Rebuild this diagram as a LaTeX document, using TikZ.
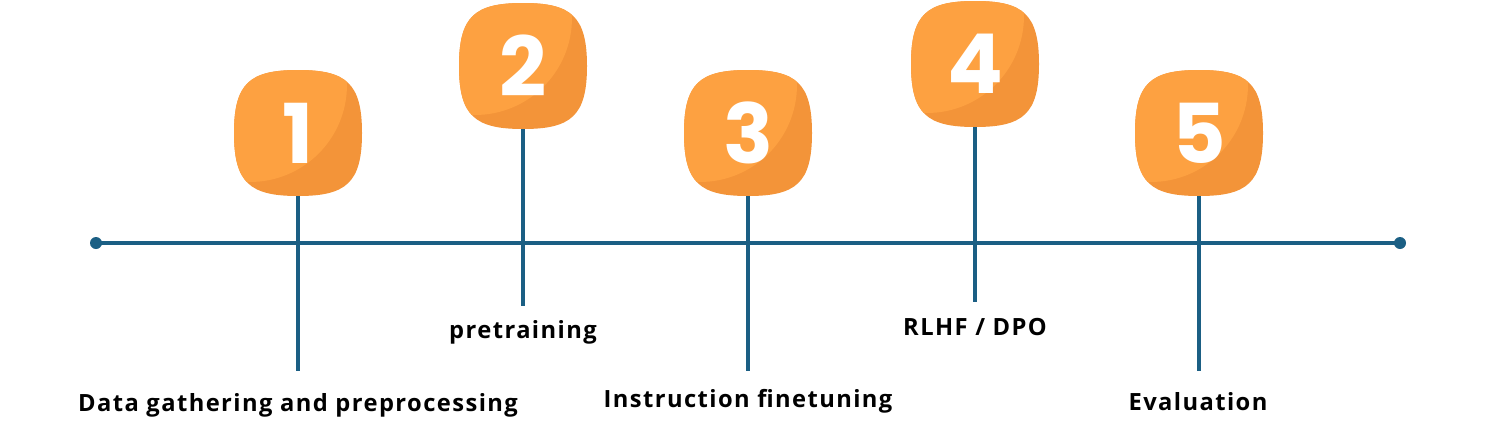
\documentclass[tikz,border=0pt]{standalone}
\usepackage{fontspec}
\setmainfont{Open Sans}
\newfontfamily\numfont{Poppins}
\newfontfamily\lblfont{Open Sans}[LetterSpace=6]
\usepackage{xcolor}
\definecolor{orlight}{HTML}{FDA141}
\definecolor{ordark}{HTML}{F39439}
\definecolor{lineblue}{HTML}{1B5F84}

% outline of one number badge, in pixel units round its centre
\newcommand\badgeshape{(0,-63) .. controls (48,-63) and (64,-50) .. (64,0)
  .. controls (64,50) and (48,63) .. (0,63)
  .. controls (-48,63) and (-64,50) .. (-64,0)
  .. controls (-64,-50) and (-48,-63) .. (0,-63) -- cycle}

% #1 name, #2 centre, #3 number
\newcommand\badge[3]{%
  \begin{scope}[shift={#2}]
    \fill[ordark] \badgeshape;
    \begin{scope}
      \clip \badgeshape;
      \fill[orlight] (-48,-48) circle[radius=1.94cm];
    \end{scope}
  \end{scope}
  \node[badge] (#1) at #2 {#3};}

\tikzset{
  badge/.style={minimum width=2.56cm, minimum height=2.52cm, inner sep=0pt,
    text=white, font=\numfont\bfseries\fontsize{47}{47}\selectfont},
  stem/.style={lineblue, line width=2pt},
  lbl/.style={font=\lblfont\bfseries\fontsize{13.5}{15}\selectfont, anchor=base, inner sep=0pt}
}

\begin{document}
\begin{tikzpicture}[x=0.02cm, y=-0.02cm]
        \useasboundingbox (0,0) rectangle (1497,437);
        % timeline
        \coordinate (t0) at (96,243);
        \coordinate (t1) at (1400,243);
        \draw[stem] (t0) -- (t1);
        \fill[lineblue] (t0) circle (0.12cm);
        \fill[lineblue] (t1) circle (0.12cm);
        % badges
        \badge{b1}{(298,133)}{1}
        \badge{b2}{(523,66)}{2}
        \badge{b3}{(748,133)}{3}
        \badge{b4}{(975,64)}{4}
        \badge{b5}{(1199,133)}{5}
        % stem ends
        \coordinate (e1) at (298,371);
        \coordinate (e2) at (523,306);
        \coordinate (e3) at (748,371);
        \coordinate (e4) at (975,302);
        \coordinate (e5) at (1199,371);
        \draw[stem] (b1) -- (e1);
        \draw[stem] (b2) -- (e2);
        \draw[stem] (b3) -- (e3);
        \draw[stem] (b4) -- (e4);
        \draw[stem] (b5) -- (e5);
        % labels
        \node[lbl] (l1) at (298,411) {Data gathering and preprocessing};
        \node[lbl] (l2) at (523,338) {pretraining};
        \node[lbl] (l3) at (748,407) {Instruction finetuning};
        \node[lbl] (l4) at (975,335) {RLHF / DPO};
        \node[lbl] (l5) at (1198,410) {Evaluation};
\end{tikzpicture}
\end{document}
